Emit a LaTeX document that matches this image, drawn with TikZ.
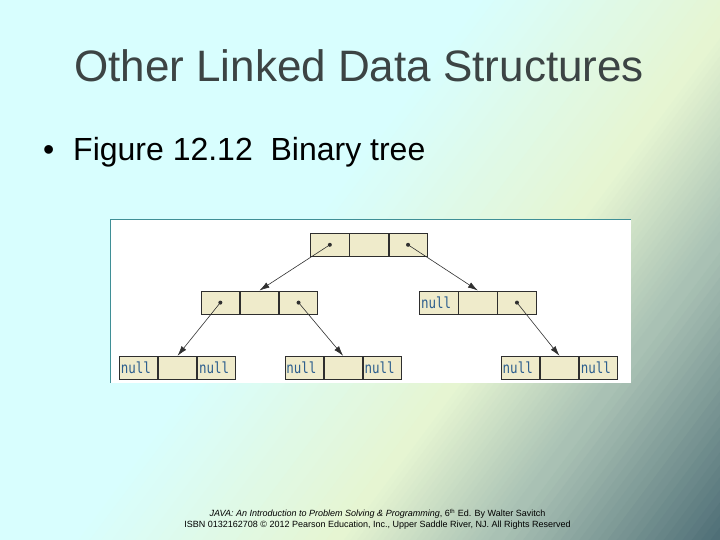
\documentclass[tikz,border=0pt]{standalone}
\usepackage{fontspec}
\setmainfont{Liberation Sans}
\newfontfamily\codefont{DejaVu Sans Mono}
\usetikzlibrary{positioning,arrows.meta}
\definecolor{bgcyan}{HTML}{D8FEFE}
\definecolor{bgyellow}{HTML}{E6F5D2}
\definecolor{bggrey}{HTML}{A9C1B4}
\definecolor{bgdark}{HTML}{4F6F77}
\definecolor{cellfill}{HTML}{EFEBCB}
\definecolor{cellline}{HTML}{2E2E2E}
\definecolor{nullblue}{HTML}{2C5E8E}
\definecolor{linkgray}{HTML}{303030}
\definecolor{panelline}{HTML}{3F8F96}
\definecolor{titlegray}{HTML}{3C4444}
\tikzset{
  cell/.style     = {draw=cellline, fill=cellfill, line width=0.8pt, minimum width=38.3pt, minimum height=23.4pt, inner sep=0pt},
  nullcell/.style = {cell, text width=35.3pt, inner xsep=1.5pt, align=left, text=nullblue, font=\codefont\fontsize{12.5}{12.5}\selectfont},
  link/.style     = {draw=linkgray, line width=0.6pt, -{Latex[length=10pt,width=6pt]}},
  title/.style    = {anchor=base, text=titlegray, font=\fontsize{44}{44}\selectfont},
  bullet/.style   = {anchor=base west, inner sep=0pt, font=\fontsize{32}{32}\selectfont},
  footer/.style   = {align=center, font=\fontsize{9}{10.5}\selectfont}
}
% the word in a null cell, a little taller than the font draws it
\newcommand\nullword{\scalebox{1}[1.22]{null}}
% one stretch of the diagonal background, from t=#1 to t=#2
\newcommand\bgband[4]{%
  \foreach \i in {0,...,23}{
    \pgfmathsetmacro\ta{#1+(#2-#1)*\i/24}
    \pgfmathsetmacro\tb{#1+(#2-#1)*(\i+1.3)/24}
    \pgfmathtruncatemacro\p{100*\i/23}
    \fill[#4!\p!#3] ({\ta*720-420},{\ta*540+560}) -- ({\ta*720+420},{\ta*540-560})
      -- ({\tb*720+420},{\tb*540-560}) -- ({\tb*720-420},{\tb*540+560}) -- cycle;
  }}

\begin{document}
\begin{tikzpicture}[x=1pt,y=-1pt]
  \useasboundingbox (0,0) rectangle (720,540);
  \begin{scope}
    \clip (0,0) rectangle (720,540);
    \fill[bgcyan] (0,0) rectangle (720,540);
    \bgband{0.42}{0.66}{bgcyan}{bgyellow}
    \bgband{0.66}{0.80}{bgyellow}{bggrey}
    \bgband{0.80}{1.0}{bggrey}{bgdark}
  \end{scope}

  % slide text
  \node[title] (head) at (359,82) {Other Linked Data Structures};
  \node[bullet] (dot) at (43,161) {\textbullet};
  \node[bullet] (caption) at (73,161) {Figure 12.12\ \ Binary tree};

  % figure panel
  \fill[white] (110,220) rectangle (631,383);
  \draw[panelline, line width=1pt] (110,383) -- (110,220) -- (631,220);

  % root
  \node[cell] (t1) at (329.85,244.8) {};
  \node[cell, right=0pt of t1] (t2) {};
  \node[cell, right=0pt of t2] (t3) {};

  % second level
  \node[cell] (a1) at (220.35,302.6) {};
  \node[cell, right=0pt of a1] (a2) {};
  \node[cell, right=0pt of a2] (a3) {};
  \node[nullcell] (b1) at (438.75,302.6) {\nullword};
  \node[cell, right=0pt of b1] (b2) {};
  \node[cell, right=0pt of b2] (b3) {};

  % leaves
  \node[nullcell] (c1) at (138.45,367.9) {\nullword};
  \node[cell, right=0pt of c1] (c2) {};
  \node[nullcell, right=0pt of c2] (c3) {\nullword};
  \node[nullcell] (d1) at (304.05,367.9) {\nullword};
  \node[cell, right=0pt of d1] (d2) {};
  \node[nullcell, right=0pt of d2] (d3) {\nullword};
  \node[nullcell] (e1) at (520.35,367.9) {\nullword};
  \node[cell, right=0pt of e1] (e2) {};
  \node[nullcell, right=0pt of e2] (e3) {\nullword};

  % references
  \foreach \n in {t1,t3,a1,a3,b3}
    \fill[linkgray] (\n) circle (2pt);
  \draw[link] (t1.center) -- (a2.north);
  \draw[link] (t3.center) -- (b2.north);
  \draw[link] (a1.center) -- (c2.north);
  \draw[link] (a3.center) -- (d2.north);
  \draw[link] (b3.center) -- (e2.north);

  \node[footer] (credit) at (377.5,519) {\textit{JAVA: An Introduction to Problem Solving \& Programming}, 6\textsuperscript{th} Ed. By Walter Savitch\\
    ISBN 0132162708 © 2012 Pearson Education, Inc., Upper Saddle River, NJ. All Rights Reserved};
\end{tikzpicture}
\end{document}
